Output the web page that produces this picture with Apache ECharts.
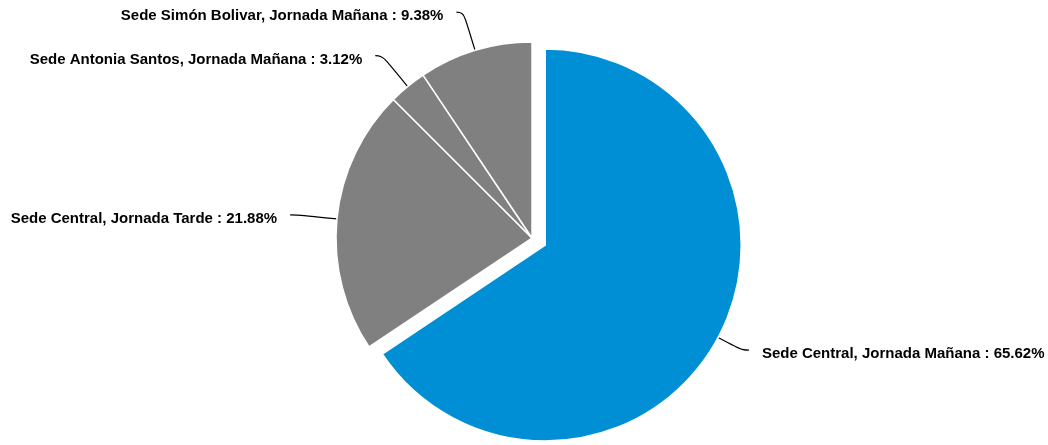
<!DOCTYPE html>
<html>
<head>
<meta charset="utf-8">
<script src="https://cdn.jsdelivr.net/npm/echarts@6/dist/echarts.min.js"></script>
<style>
  html, body { margin: 0; padding: 0; background: #fff; }
  #container { width: 1048px; height: 445px; }
</style>
</head>
<body>
<div id="container"></div>
<script>
var dom = document.getElementById("container");
var pieChart = echarts.init(dom);

const names = [
    "Sede Central, Jornada Mañana",
    "Sede Central, Jornada Tarde",
    "Sede Antonia Santos, Jornada Mañana",
    "Sede Simón Bolivar, Jornada Mañana",
];
const percents = [65.62, 21.88, 3.12, 9.38];
const colors = ["#008fd5", "#808080", "#808080", "#808080"];

var option = {
    animation: false,
    series: [
        {
            type: "pie",
            center: [532, 238],
            radius: 196,
            startAngle: 90,
            clockwise: true,
            avoidLabelOverlap: false,
            selectedMode: "single",
            selectedOffset: 15,
            itemStyle: {
                borderColor: "#fff",
                borderWidth: 1.5,
            },
            label: {
                show: true,
                // empty spacer line on top pushes the text a bit below the line end
                formatter: "{s|}\n{t|{b} : {c}%}",
                distanceToLabelLine: 13,
                rich: {
                    s: { height: 8, lineHeight: 8, fontSize: 1 },
                    t: {
                        color: "#000",
                        fontFamily: "Liberation Sans",
                        fontWeight: "bold",
                        fontSize: 15,
                        lineHeight: 18,
                    },
                },
            },
            labelLine: {
                show: true,
                length: 40,
                length2: 7,
                smooth: 0.5,
                lineStyle: { color: "#000", width: 1.2 },
            },
            emphasis: { disabled: true },
            data: names.map(function (n, i) {
                var item = {
                    name: n,
                    value: percents[i],
                    selected: i === 0,
                    itemStyle: { color: colors[i] },
                };
                // selected slice: keep its label near the un-shifted spot
                if (i === 0) {
                    item.labelLine = { length: 27, length2: 7 };
                }
                return item;
            }),
        },
    ],
};

pieChart.setOption(option);
</script>
</body>
</html>
